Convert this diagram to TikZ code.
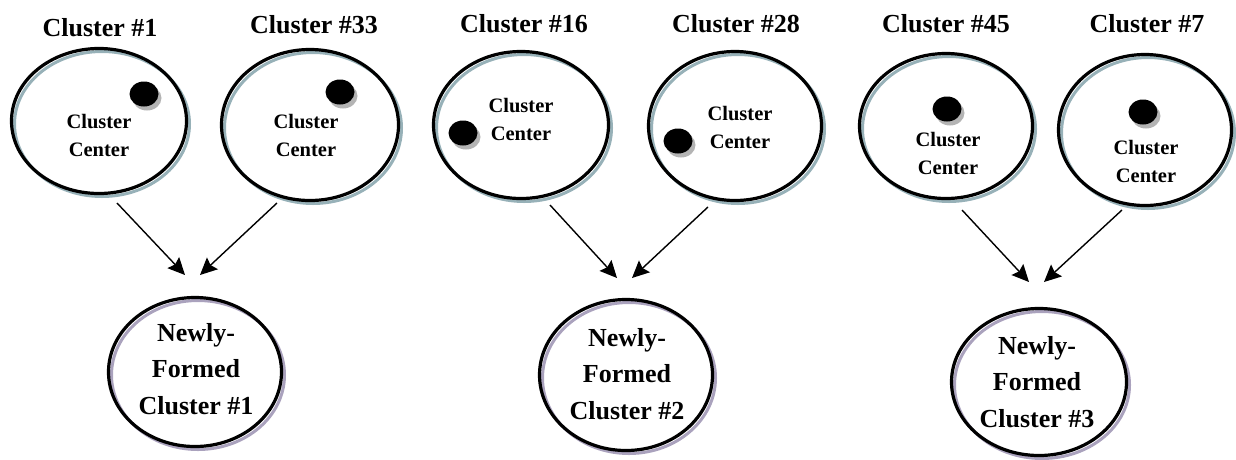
\documentclass[tikz,border=0pt]{standalone}
\usepackage{fontspec}
\setmainfont{Liberation Serif}
\usetikzlibrary{shapes.geometric,arrows.meta,shadows}

\definecolor{ringtop}{HTML}{97B1B8}
\definecolor{ringbot}{HTML}{AAA2BD}
\definecolor{dotshade}{HTML}{B4B4B4}

\begin{document}
\begin{tikzpicture}[x=1pt,y=-1pt,
  blob/.style 2 args={ellipse, draw=black, line width=3.2pt, inner sep=0pt,
    outer sep=0pt, minimum width=#1pt, minimum height=#2pt},
  oldcluster/.style 2 args={blob={#1}{#2},
    general shadow={draw=ringtop, fill=none, line width=3pt,
      shadow xshift=3pt, shadow yshift=-3pt, opacity=1}},
  newcluster/.style 2 args={blob={#1}{#2},
    general shadow={draw=ringbot, fill=none, line width=3pt,
      shadow xshift=3pt, shadow yshift=-3pt, opacity=1}},
  centre/.style={ellipse, fill=black, inner sep=0pt, minimum width=29pt,
    minimum height=25pt,
    general shadow={fill=dotshade, draw=none, shadow xshift=3pt,
      shadow yshift=-4pt, opacity=1}},
  title/.style={font=\bfseries\fontsize{26}{30}\selectfont, anchor=base,
    inner sep=0pt},
  label/.style={font=\bfseries\fontsize{20.5}{28}\selectfont, align=center,
    anchor=base, inner sep=0pt},
  newlabel/.style={font=\bfseries\fontsize{26}{36.5}\selectfont, align=center,
    anchor=base, inner sep=0pt},
  merge/.style={-{Stealth[length=17pt,width=16pt,inset=2.5pt]}, line width=1.4pt}
]
\useasboundingbox (0,0) rectangle (1236,459);

% source clusters
\node[oldcluster={175}{145}] (e1) at (99,121) {};
\node[oldcluster={177}{151}] (e2) at (310,125) {};
\node[oldcluster={175}{147}] (e3) at (521,125) {};
\node[oldcluster={173}{149}] (e4) at (735,126) {};
\node[oldcluster={173}{145}] (e5) at (946,126) {};
\node[oldcluster={173}{151}] (e6) at (1145,130) {};

% cluster titles
\node[title] (t1) at (100,36) {Cluster \#1};
\node[title] (t2) at (314,33) {Cluster \#33};
\node[title] (t3) at (524,32) {Cluster \#16};
\node[title] (t4) at (736,32) {Cluster \#28};
\node[title] (t5) at (946,32) {Cluster \#45};
\node[title] (t6) at (1147,32) {Cluster \#7};

% cluster centres (the base anchor sits on the last line)
\node[centre] (d1) at (144,94) {};
\node[centre] (d2) at (340,92) {};
\node[centre] (d3) at (463,133) {};
\node[centre] (d4) at (678,141) {};
\node[centre] (d5) at (947,109) {};
\node[centre] (d6) at (1143,112) {};

\node[label] (l1) at (99,156) {Cluster\\Center};
\node[label] (l2) at (306,156) {Cluster\\Center};
\node[label] (l3) at (521,140) {Cluster\\Center};
\node[label] (l4) at (740,148) {Cluster\\Center};
\node[label] (l5) at (948,174) {Cluster\\Center};
\node[label] (l6) at (1146,182) {Cluster\\Center};

% merged clusters
\node[newcluster={173}{149}] (n1) at (195,372) {};
\node[newcluster={173}{151}] (n2) at (626,375) {};
\node[newcluster={175}{147}] (n3) at (1039,382) {};

\node[newlabel] (m1) at (196,414) {Newly-\\Formed\\Cluster \#1};
\node[newlabel] (m2) at (627,419) {Newly-\\Formed\\Cluster \#2};
\node[newlabel] (m3) at (1037,427) {Newly-\\Formed\\Cluster \#3};

% merge arrows
\draw[merge] ([shift={(18,82)}]e1.center) -- ([shift={(-10,-97)}]n1.center);
\draw[merge] ([shift={(-33,78)}]e2.center) -- ([shift={(5,-97)}]n1.center);
\draw[merge] ([shift={(29,80)}]e3.center) -- ([shift={(-9,-97)}]n2.center);
\draw[merge] ([shift={(-27,81)}]e4.center) -- ([shift={(6,-97)}]n2.center);
\draw[merge] ([shift={(16,84)}]e5.center) -- ([shift={(-10,-100)}]n3.center);
\draw[merge] ([shift={(-23,80)}]e6.center) -- ([shift={(5,-100)}]n3.center);
\end{tikzpicture}
\end{document}
